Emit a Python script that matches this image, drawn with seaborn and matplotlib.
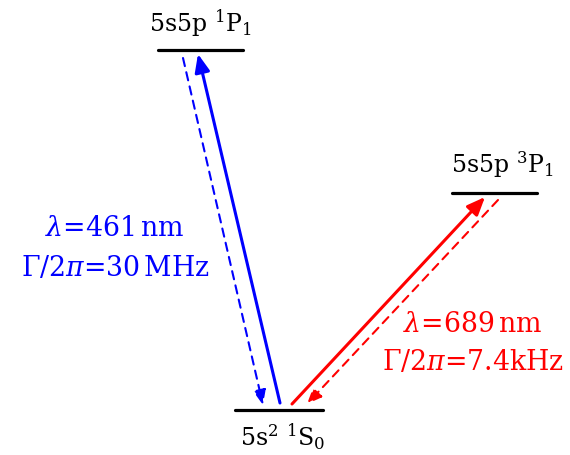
import numpy as np
import pandas as pd
import matplotlib
matplotlib.use('Agg')
import matplotlib.pyplot as plt
import seaborn as sns

# energy levels (drawn in pixel-like canvas units, y grows downwards)
level_names = ['ground', 'singlet', 'triplet']
level_labels = [r'5s$^2$ $^1$S$_0$', r'5s5p $^1$P$_1$', r'5s5p $^3$P$_1$']
level_y = [410, 50, 193]
level_left = [235, 158, 452]
level_right = [323, 243, 537]

# transitions
trans_colors = ['#0000ff', '#ff0000']
trans_wavelength = ['461', '689']
trans_linewidth = ['30$\\,$MHz', '7.4kHz']

sns.set_theme(style='white')
plt.rcParams['font.family'] = ['DejaVu Serif']
plt.rcParams['mathtext.fontset'] = 'dejavuserif'

fig = plt.figure(figsize=(5.7, 4.55), dpi=100)
ax = fig.add_axes([0, 0, 1, 1])

df = pd.DataFrame({
    'level': np.repeat(level_names, 2),
    'x': np.ravel(np.column_stack([level_left, level_right])),
    'y': np.repeat(level_y, 2),
})
sns.lineplot(data=df, x='x', y='y', units='level', estimator=None, sort=False,
             color='black', lw=2.3, ax=ax, legend=False)

# level labels
label_pos = [(283, 437), (200, 23), (502, 165)]
for lab, (lx, ly) in zip(level_labels, label_pos):
    ax.text(lx, ly, lab, ha='center', va='center', fontsize=17, color='black')

# arrows: (start, end, colour index)
arrows = [
    ((280, 403), (198, 54), 0),   # blue absorption
    ((183, 58), (263, 405), 0),   # blue emission (dashed)
    ((292, 404), (485, 197), 1),  # red absorption
    ((498, 200), (307, 404), 1),  # red emission (dashed)
]
for i, (start, end, c) in enumerate(arrows):
    dashed = i % 2 == 1
    if dashed:
        props = dict(arrowstyle='-|>,head_length=0.6,head_width=0.25',
                     color=trans_colors[c], lw=1.5, linestyle=(0, (4, 3)),
                     mutation_scale=15, shrinkA=0, shrinkB=0)
    else:
        props = dict(arrowstyle='-|>,head_length=0.6,head_width=0.25',
                     color=trans_colors[c], lw=2.2,
                     mutation_scale=18, shrinkA=0, shrinkB=0)
    ax.annotate('', xy=end, xytext=start, arrowprops=props)

text_pos = [(115, 229, 268), (473, 325, 363)]
for c, (tx, ty1, ty2) in enumerate(text_pos):
    ax.text(tx, ty1, r'$\lambda$=' + trans_wavelength[c] + r'$\,$nm',
            ha='center', va='center', fontsize=19.3, color=trans_colors[c])
    ax.text(tx, ty2, r'$\Gamma/2\pi$=' + trans_linewidth[c],
            ha='center', va='center', fontsize=19.3, color=trans_colors[c])

ax.set_xlim(0, 570)
ax.set_ylim(455, 0)
ax.axis('off')

fig.savefig('out.png', dpi=100)
